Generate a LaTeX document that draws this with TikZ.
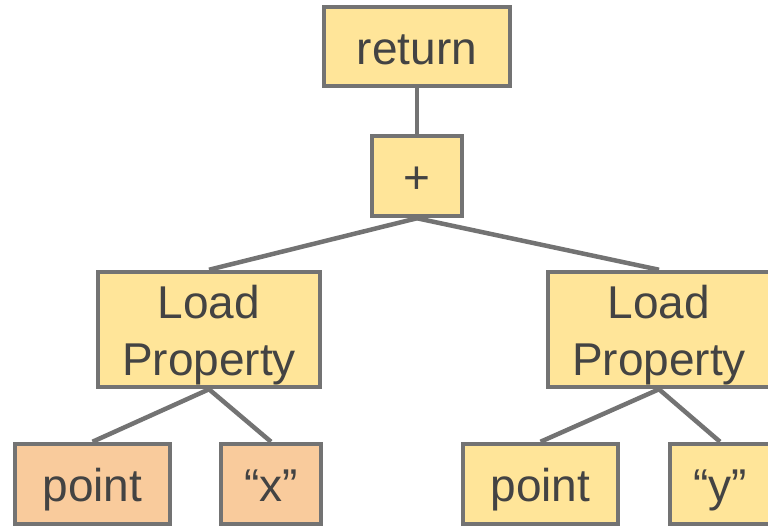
\documentclass[tikz,border=0pt]{standalone}
\usepackage{fontspec}
\setmainfont{Liberation Sans}
\definecolor{yel}{HTML}{FFE599}
\definecolor{ora}{HTML}{F9CB9C}
\definecolor{bord}{HTML}{737373}
\definecolor{txt}{HTML}{434343}
\begin{document}
\begin{tikzpicture}[x=1pt,y=-1pt,
  box/.style={draw=bord, line width=4.5pt, fill=yel, text=txt,
    font=\fontsize{46}{57}\selectfont, inner sep=0pt, align=center},
  onel/.style={text height=35pt, text depth=0pt},
  leaf/.style={box, fill=ora},
  edge/.style={draw=bord, line width=4.5pt}]
\useasboundingbox (0,0) rectangle (768,528);
\clip (0,0) rectangle (768,528);
\node[box, onel, minimum width=186, minimum height=79] (ret) at (417,46.5) {return};
\node[box, onel, minimum width=90, minimum height=80] (plus) at (417,176) {+};
\node[box, minimum width=222, minimum height=115] (lpl) at (209,329.5) {\rule{0pt}{44pt}Load\\Property};
\node[box, minimum width=222, minimum height=115] (lpr) at (659,329.5) {\rule{0pt}{44pt}Load\\Property};
\node[leaf, onel, minimum width=155, minimum height=80] (pl) at (92.5,484) {point};
\node[leaf, onel, minimum width=100, minimum height=80] (qx) at (271,484) {“x”};
\node[box, onel, minimum width=155, minimum height=80] (pr) at (540.5,484) {point};
\node[box, onel, minimum width=100, minimum height=80] (qy) at (720,484) {“y”};
\draw[edge] (ret.south) -- (plus.north);
\draw[edge] (plus.south) -- (lpl.north);
\draw[edge] (plus.south) -- (lpr.north);
\draw[edge] (lpl.south) -- (pl.north);
\draw[edge] (lpl.south) -- (qx.north);
\draw[edge] (lpr.south) -- (pr.north);
\draw[edge] (lpr.south) -- (qy.north);
\end{tikzpicture}
\end{document}
